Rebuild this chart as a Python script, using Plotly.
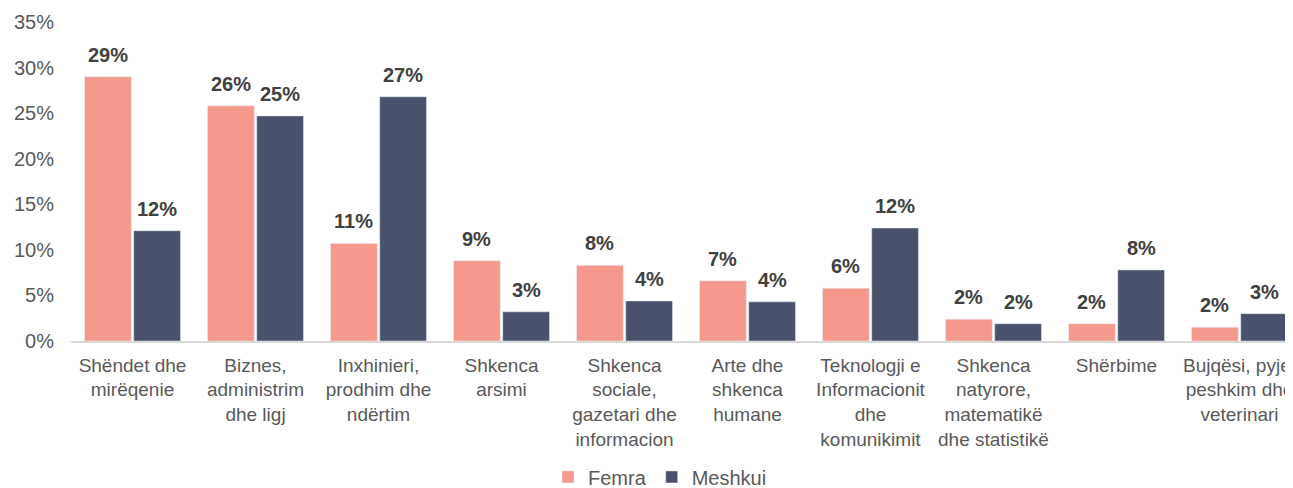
import plotly.graph_objects as go

categories = [
    "Shëndet dhe<br>mirëqenie",
    "Biznes,<br>administrim<br>dhe ligj",
    "Inxhinieri,<br>prodhim dhe<br>ndërtim",
    "Shkenca<br>arsimi",
    "Shkenca<br>sociale,<br>gazetari dhe<br>informacion",
    "Arte dhe<br>shkenca<br>humane",
    "Teknologji e<br>Informacionit<br>dhe<br>komunikimit",
    "Shkenca<br>natyrore,<br>matematikë<br>dhe statistikë",
    "Shërbime",
    "Bujqësi, pyje,<br>peshkim dhe<br>veterinari",
]
femra = [0.290, 0.258, 0.107, 0.088, 0.083, 0.066, 0.058, 0.024, 0.019, 0.015]
meshkui = [0.121, 0.247, 0.268, 0.032, 0.044, 0.043, 0.124, 0.019, 0.078, 0.030]
y_ticks = [0, 0.05, 0.10, 0.15, 0.20, 0.25, 0.30, 0.35]

FONT = "Liberation Sans, Arial, sans-serif"
label_font = dict(family=FONT, size=20, color="#404040")

fig = go.Figure()
fig.add_bar(name="Femra", x=categories, y=femra, marker_color="#F5998D")
fig.add_bar(name="Meshkui", x=categories, y=meshkui, marker_color="#4A526B")

# value labels above each bar, positioned in data coordinates
annotations = []
for series, shift in ((femra, -24.6), (meshkui, 24.6)):
    for cat, val in zip(categories, series):
        annotations.append(dict(
            x=cat, y=val, xref="x", yref="y", text=f"<b>{val:.0%}</b>",
            showarrow=False, xshift=shift, yshift=9, yanchor="bottom",
            font=label_font))

# the page body has an 8px default margin, so the figure is 8px smaller
fig.update_layout(
    width=1285, height=480,
    margin=dict(l=63, r=0, t=14, b=147, autoexpand=False),
    paper_bgcolor="white", plot_bgcolor="white",
    barmode="group", bargap=0.2, bargroupgap=0.05,
    font=dict(family=FONT, size=20, color="#595959"),
    showlegend=True,
    legend=dict(orientation="h", x=0.482, xanchor="center",
                y=-0.426, yanchor="middle",
                font=dict(size=20, color="#595959"), itemwidth=30,
                traceorder="normal"),
    annotations=annotations,
)
fig.update_xaxes(range=[-0.5, 9.435], showline=True, linecolor="#D9D9D9",
                 linewidth=1.5, ticks="", tickfont=dict(size=19, color="#595959"),
                 tickangle=0, showgrid=False, ticklabelstandoff=6)
fig.update_yaxes(range=[0, 0.35], tickvals=y_ticks, tickformat=".0%",
                 showgrid=False, zeroline=False, showline=False, ticks="",
                 tickfont=dict(size=20, color="#595959"), ticklabelstandoff=16)

fig.write_html("out.html")
